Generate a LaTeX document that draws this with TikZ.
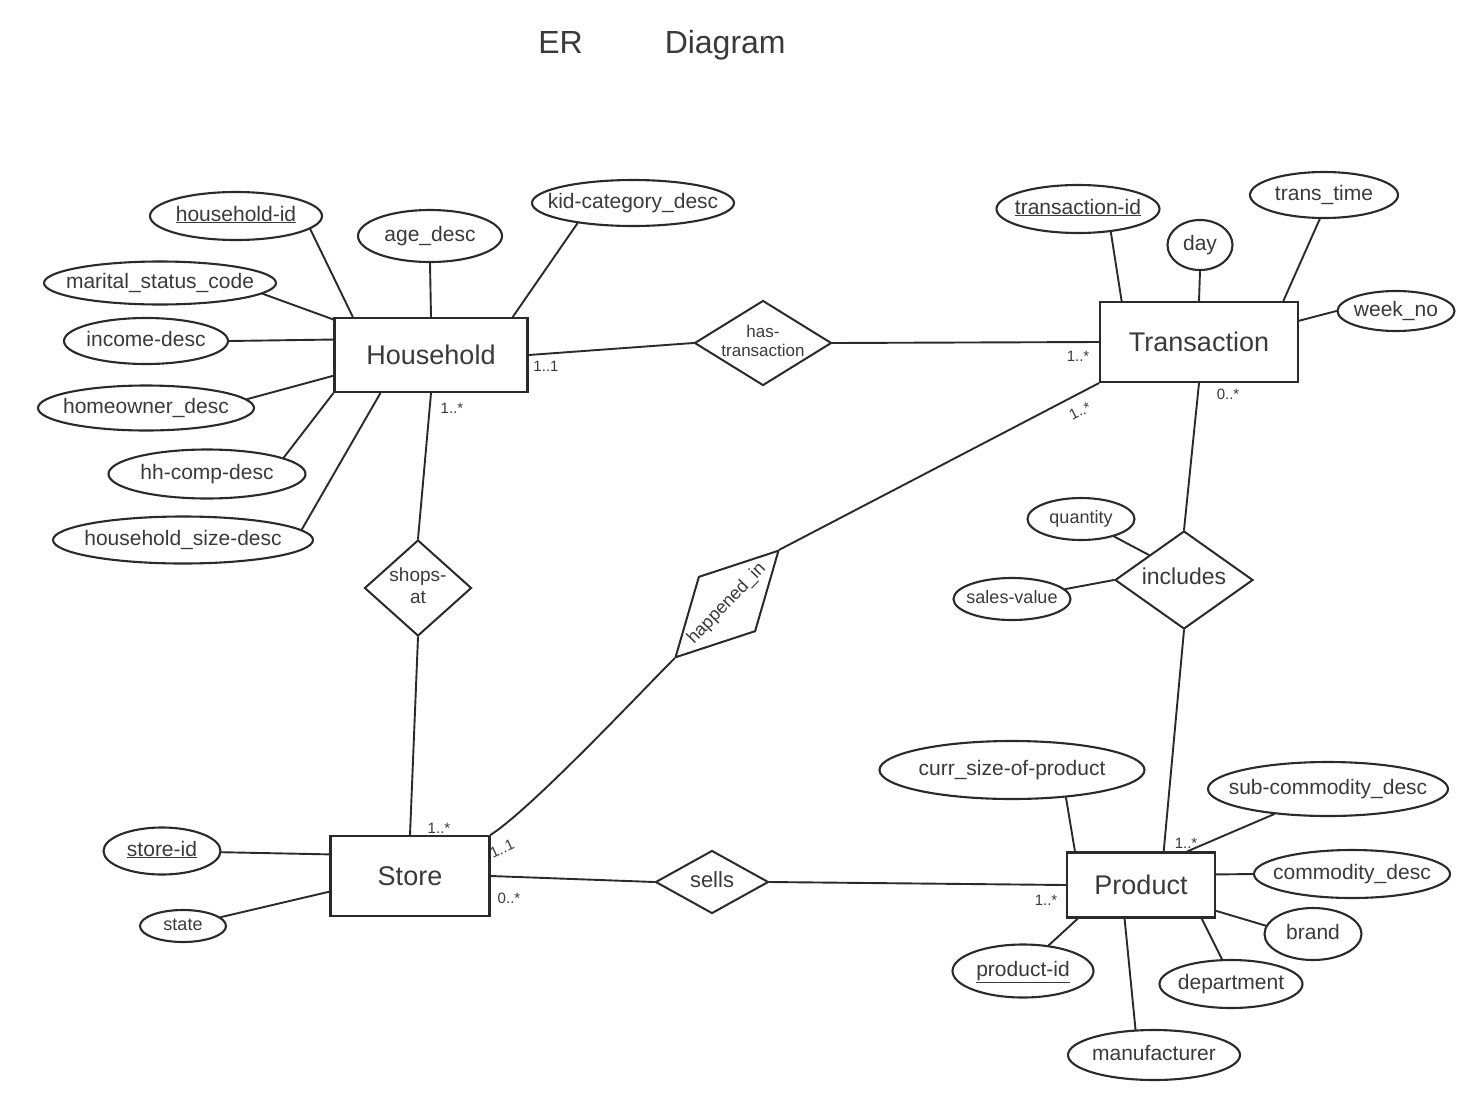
\documentclass[tikz,border=0pt]{standalone}
\usepackage{fontspec}
\setmainfont{Liberation Sans}
\usetikzlibrary{shapes.geometric}
\definecolor{pencil}{HTML}{2A2A2A}
\definecolor{lead}{HTML}{3A3A3A}
% centred label that does not enlarge the surrounding shape
\newcommand\inbox[1]{\makebox[0pt]{\smash{\raisebox{-0.25em}{\begin{tabular}{@{}c@{}}#1\end{tabular}}}}}
\begin{document}
\begin{tikzpicture}[x=1pt,y=-1pt,
  every node/.style={text=lead},
  line/.style={draw=pencil, line width=1.9pt, line cap=round},
  entity/.style={draw=pencil, line width=2.3pt, rectangle, inner sep=0pt,
    font=\fontsize{27}{32}\selectfont},
  attr/.style={draw=pencil, line width=2.1pt, ellipse, inner sep=0pt,
    font=\fontsize{21}{25}\selectfont},
  smallattr/.style={attr, font=\fontsize{18}{21}\selectfont},
  rel/.style={draw=pencil, line width=2pt, diamond, inner sep=0pt,
    font=\fontsize{18}{21}\selectfont},
  card/.style={inner sep=0pt, font=\fontsize{15}{17}\selectfont}]

\fill[white] (0,0) rectangle (1470,1106);
\useasboundingbox (0,0) rectangle (1470,1106);

% title
\node[font=\fontsize{32}{38}\selectfont] (title) at (662,45) {ER\hspace{82pt}Diagram};

% entities
\node[entity, minimum width=193, minimum height=74] (hh) at (431,355) {Household};
\node[entity, minimum width=198, minimum height=80] (tr) at (1199,342) {Transaction};
\node[entity, minimum width=159, minimum height=80] (st) at (410,876) {Store};
\node[entity, minimum width=148, minimum height=65] (pr) at (1141,885) {Product};

% relationships
\node[rel, minimum width=137, minimum height=85, font=\fontsize{17}{19}\selectfont] (ht) at (763,343) {\inbox{has-\\transaction}};
\node[rel, minimum width=107, minimum height=96, font=\fontsize{19}{22}\selectfont] (sa) at (418,588) {\inbox{shops-\\at}};
\node[rel, minimum width=138, minimum height=98, font=\fontsize{23}{26}\selectfont] (inc) at (1184,580) {\inbox{includes}};
\node[rel, minimum width=113, minimum height=63, font=\fontsize{22}{25}\selectfont] (se) at (712,882) {\inbox{sells}};
\node[rel, rotate=46, minimum width=149, minimum height=79] (hi) at (727,604) {\inbox{happened\_in}};

% household attributes
\node[attr, minimum width=172, minimum height=48] (hhid) at (236,216) {\inbox{\underline{household-id}}};
\node[attr, minimum width=144, minimum height=52] (age) at (430,236) {\inbox{age\_desc}};
\node[attr, minimum width=202, minimum height=46] (kid) at (633,203) {\inbox{kid-category\_desc}};
\node[attr, minimum width=232, minimum height=43] (mar) at (160,283) {\inbox{marital\_status\_code}};
\node[attr, minimum width=164, minimum height=46] (incd) at (146,341) {\inbox{income-desc}};
\node[attr, minimum width=216, minimum height=45] (home) at (146,408) {\inbox{homeowner\_desc}};
\node[attr, minimum width=197, minimum height=49] (hhc) at (207,474) {\inbox{hh-comp-desc}};
\node[attr, minimum width=260, minimum height=47] (hsz) at (183,540) {\inbox{household\_size-desc}};

% transaction attributes
\node[attr, minimum width=163, minimum height=48] (tid) at (1078,209) {\inbox{\underline{transaction-id}}};
\node[attr, minimum width=65, minimum height=50] (day) at (1200,245) {\inbox{day}};
\node[attr, minimum width=148, minimum height=46] (ttime) at (1324,195) {\inbox{trans\_time}};
\node[attr, minimum width=117, minimum height=40] (wk) at (1396,311) {\inbox{week\_no}};

% includes attributes
\node[smallattr, minimum width=107, minimum height=42] (qty) at (1081,519) {\inbox{quantity}};
\node[smallattr, minimum width=117, minimum height=42] (sv) at (1012,599) {\inbox{sales-value}};

% store attributes
\node[attr, minimum width=117, minimum height=47] (sid) at (162,851) {\inbox{\underline{store-id}}};
\node[smallattr, minimum width=86, minimum height=32] (state) at (183,926) {\inbox{state}};

% product attributes
\node[attr, minimum width=265, minimum height=58] (csz) at (1012,770) {\inbox{curr\_size-of-product}};
\node[attr, minimum width=240, minimum height=54] (sub) at (1328,789) {\inbox{sub-commodity\_desc}};
\node[attr, minimum width=196, minimum height=48] (com) at (1352,874) {\inbox{commodity\_desc}};
\node[attr, minimum width=97, minimum height=52] (brand) at (1313,934) {\inbox{brand}};
\node[attr, minimum width=143, minimum height=48] (dept) at (1231,984) {\inbox{department}};
\node[attr, minimum width=141, minimum height=53] (pid) at (1023,971) {\inbox{\underline{product-id}}};
\node[attr, minimum width=172, minimum height=50] (mfr) at (1154,1055) {\inbox{manufacturer}};

% attribute links
\draw[line] (hhid.-10) -- (hh.154);
\draw[line] (age.south) -- (hh.north);
\draw[line] (kid.200) -- (hh.25);
\draw[line] (mar.-6) -- (hh.160);
\draw[line] (incd.east) -- (hh.171);
\draw[line] (home.5) -- (hh.192);
\draw[line] (hhc.12) -- (hh.south west);
\draw[line] (hsz.5) -- (hh.217);

\draw[line] (tid.-35) -- (tr.152);
\draw[line] (day.south) -- (tr.north);
\draw[line] (ttime.-100) -- (tr.26);
\draw[line] (wk.west) -- (tr.12);

\draw[line] (qty) -- (inc.north west);
\draw[line] (sv) -- (inc.west);

\draw[line] (sid) -- (st.165);
\draw[line] (state) -- (st.191);

\draw[line] (csz.-27) -- (pr.153);
\draw[line] (sub.205) -- (pr.36);
\draw[line] (com.west) -- (pr.8);
\draw[line] (brand.170) -- (pr.341);
\draw[line] (dept.110) -- (pr.331);
\draw[line] (pid.45) -- (pr.208);
\draw[line] (mfr.126) -- (pr.244);

% relationship links
\draw[line] (hh.east) -- (ht.west);
\draw[line] (ht.east) -- (tr.west);
\draw[line] (hh.south) -- (sa.north);
\draw[line] (sa.south) -- (st.north);
\draw[line] (st.north east) to[out=33,in=225,looseness=0.5] (hi.west);
\draw[line] (hi.east) -- (tr.south west);
\draw[line] (tr.south) -- (inc.north);
\draw[line] (inc.south) -- (pr.56);
\draw[line] (st.east) -- (se.west);
\draw[line] (se.east) -- (pr.west);

% cardinalities
\node[card] (c1) at (546,366) {1..1};
\node[card] (c2) at (452,408) {1..*};
\node[card] (c3) at (1078,356) {1..*};
\node[card] (c4) at (1228,394) {0..*};
\node[card, rotate=27] (c5) at (1080,411) {1..*};
\node[card] (c6) at (439,828) {1..*};
\node[card, rotate=25] (c7) at (502,849) {1..1};
\node[card] (c8) at (509,898) {0..*};
\node[card] (c9) at (1046,900) {1..*};
\node[card] (c10) at (1186,843) {1..*};
\end{tikzpicture}
\end{document}
